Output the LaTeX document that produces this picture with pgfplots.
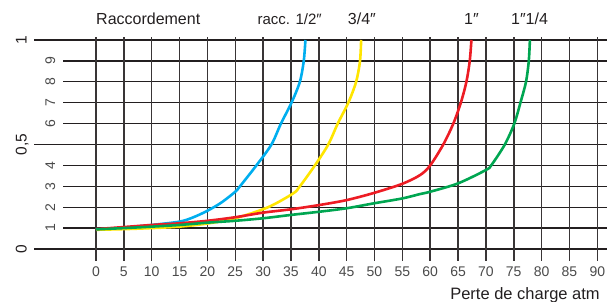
\documentclass[border=0pt]{standalone}
\usepackage{fontspec}
\setmainfont{Liberation Sans}
\usepackage{pgfplots}
\pgfplotsset{compat=1.18}
\definecolor{cblue}{HTML}{00AEEF}
\definecolor{cyellow}{HTML}{FFE500}
\definecolor{cred}{HTML}{ED1C24}
\definecolor{cgreen}{HTML}{00A651}
\definecolor{gridc}{HTML}{231F20}
\definecolor{labc}{HTML}{4A4A4A}
\begin{document}
\begin{tikzpicture}
\useasboundingbox (-96pt,-53pt) rectangle (511pt,249pt);
\begin{axis}[
  scale only axis, width=501.3pt, height=209pt,
  xmin=0, xmax=90, ymin=0, ymax=10,
  axis line style={draw=none}, major tick length=0pt,
  clip=false,
  xtick=\empty, ytick=\empty,
  xlabel={Perte de charge atm},
  xlabel style={at={(axis description cs:1.0053,-0.2407)}, anchor=base east, inner sep=0pt, font=\fontsize{16.5}{18}\selectfont, text=gridc},
]
% grid
\pgfplotsinvokeforeach{1,2,3,4,6,7,8,9}{\draw[gridc, line width=1.25pt] (axis cs:-5.92,#1) -- (axis cs:91.74,#1);}
\pgfplotsinvokeforeach{0,5,10}{\draw[gridc, line width=1.3pt] (axis cs:-11.13,#1) -- (axis cs:91.74,#1);}
\pgfplotsinvokeforeach{0,5,10,15,20,25,30,35,40,45,50,55,60,65,70,75,80,85,90}{\draw[gridc!90, line width=1.5pt] (axis cs:#1,-0.574) -- (axis cs:#1,10.16);}
% tick labels
\pgfplotsinvokeforeach{0,5,10,15,20,25,30,35,40,45,50,55,60,65,70,75,80,85,90}{\node[anchor=base, yshift=-27pt, inner sep=0pt, font=\fontsize{14}{16}\selectfont, text=labc] at (axis cs:#1,0) {#1};}
\pgfplotsinvokeforeach{1,2,3,4,6,7,8,9}{\node[rotate=90, anchor=base, inner sep=0pt, font=\fontsize{14}{16}\selectfont, text=labc] at (axis cs:-7.36,#1) {#1};}
% big y labels
\node[rotate=90, anchor=base, inner sep=0pt, font=\fontsize{15.5}{16}\selectfont, text=gridc] at (axis cs:-12.44,0) {0};
\node[rotate=90, anchor=base, inner sep=0pt, font=\fontsize{15.5}{16}\selectfont, text=gridc] at (axis cs:-12.44,5) {0,5};
\node[rotate=90, anchor=base, inner sep=0pt, font=\fontsize{15.5}{16}\selectfont, text=gridc] at (axis cs:-12.44,10) {1};
% titles
\node[anchor=base west, inner sep=0pt, font=\fontsize{16}{18}\selectfont, text=gridc] at (axis cs:0,10.75) {Raccordement};
\node[anchor=base west, inner sep=0pt, font=\fontsize{15}{18}\selectfont, text=gridc] at (axis cs:28.96,10.75) {racc. 1/2″};
\node[anchor=base west, inner sep=0pt, font=\fontsize{16}{18}\selectfont, text=gridc] at (axis cs:45.19,10.75) {3/4″};
\node[anchor=base west, inner sep=0pt, font=\fontsize{16}{18}\selectfont, text=gridc] at (axis cs:66.07,10.75) {1″};
\node[anchor=base west, inner sep=0pt, font=\fontsize{16}{18}\selectfont, text=gridc] at (axis cs:74.5,10.75) {1″1/4};
% curves
\addplot[cblue, line width=2.6pt, smooth, tension=0.5] coordinates {(0,0.94)(5,1.02)(10,1.15)(15,1.31)(17.5,1.52)(20,1.83)(22.5,2.22)(25,2.74)(25.85,3)(28.8,4)(31.5,5)(33.2,6)(35.1,7)(36.6,8)(37.3,9)(37.6,10)};
\addplot[cyellow, line width=2.6pt, smooth, tension=0.5] coordinates {(0,0.92)(5,0.95)(10,1.0)(15,1.07)(20,1.22)(25,1.47)(30.9,2)(35.4,2.66)(36.6,3)(39.3,4)(41.7,5)(43.4,6)(45.3,7)(46.7,8)(47.4,9)(47.6,10)};
\addplot[cred, line width=2.6pt, smooth, tension=0.5] coordinates {(0,0.95)(5,1.05)(10,1.15)(15,1.23)(20,1.35)(25,1.52)(30,1.74)(35,1.9)(40,2.1)(45,2.34)(50,2.69)(55,3.12)(58.2,3.54)(60,4.0)(62.35,5)(64.15,6)(65.5,7)(66.5,8)(67.1,9)(67.4,10)};
\addplot[cgreen, line width=2.6pt, smooth, tension=0.5] coordinates {(0,0.94)(5,1.0)(10,1.07)(15,1.15)(20,1.26)(25,1.35)(30,1.47)(35,1.63)(40,1.78)(45,1.95)(50,2.19)(55,2.42)(58.2,2.63)(60,2.74)(65,3.14)(70,3.78)(71,4.02)(73.4,5)(75.1,6)(76.2,7)(77.2,8)(77.7,9)(77.9,10)};
\end{axis}
\end{tikzpicture}
\end{document}
